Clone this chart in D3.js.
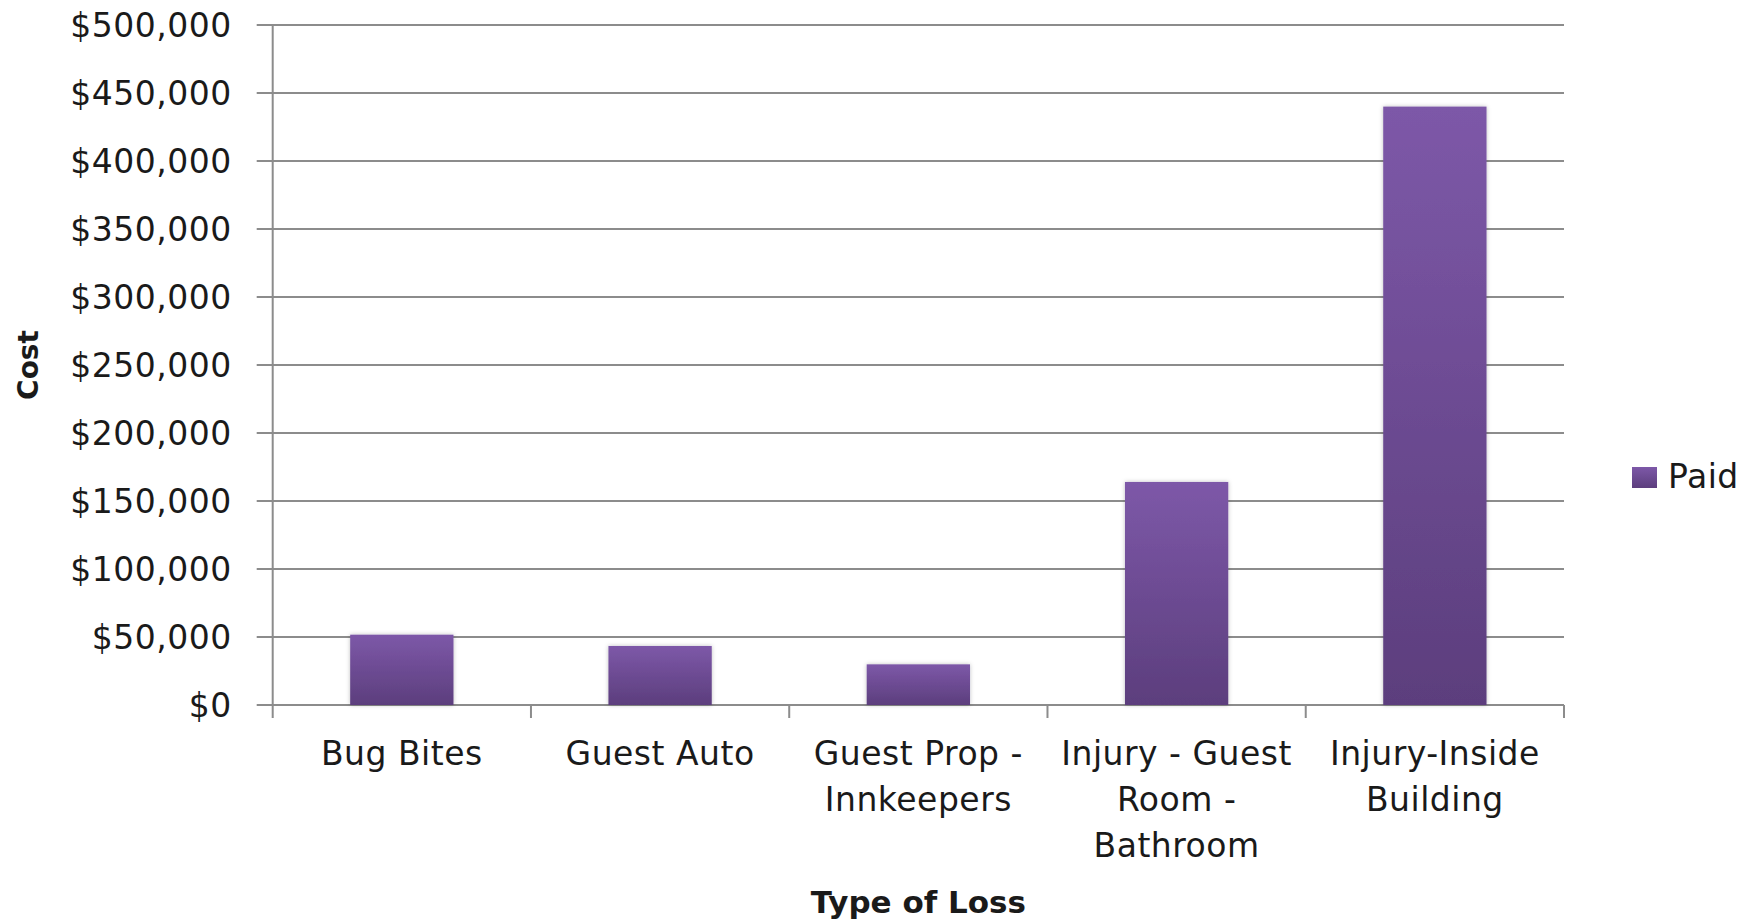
<!DOCTYPE html>
<html>
<head>
<meta charset="utf-8">
<script src="https://cdn.jsdelivr.net/npm/d3@7"></script>
<style>
  html, body { margin: 0; padding: 0; background: #fff; }
  svg { display: block; }
  text { font-family: "DejaVu Sans", sans-serif; fill: #1a1a1a; }
</style>
</head>
<body>
<svg id="chart" width="1760" height="923"></svg>
<script>
// ---- data ----
const categories = ["Bug Bites", "Guest Auto", "Guest Prop - Innkeepers", "Injury - Guest Room - Bathroom", "Injury-Inside Building"];
const categoryLines = [["Bug Bites"], ["Guest Auto"], ["Guest Prop -", "Innkeepers"], ["Injury - Guest", "Room -", "Bathroom"], ["Injury-Inside", "Building"]];
const paid = [51700, 43400, 29900, 164000, 440000];
const yTicks = [0, 50000, 100000, 150000, 200000, 250000, 300000, 350000, 400000, 450000, 500000];
const seriesName = "Paid";
const xTitle = "Type of Loss";
const yTitle = "Cost";

// ---- layout ----
const svg = d3.select("#chart");
const mLeft = 272.7, mRight = 1564, mTop = 25, mBottom = 705;

const x = d3.scaleBand().domain(categories).range([mLeft, mRight]).paddingInner(0.6).paddingOuter(0.3);
const y = d3.scaleLinear().domain([0, 500000]).range([mBottom, mTop]);

const defs = svg.append("defs");
const grad = defs.append("linearGradient").attr("id", "barGrad").attr("x1", 0).attr("y1", 0).attr("x2", 0).attr("y2", 1);
grad.append("stop").attr("offset", "0%").attr("stop-color", "#7d58a8");
grad.append("stop").attr("offset", "100%").attr("stop-color", "#5c3e7d");
const shadow = defs.append("filter").attr("id", "shadow").attr("x", "-20%").attr("y", "-20%").attr("width", "140%").attr("height", "140%");
shadow.append("feDropShadow").attr("dx", 0).attr("dy", 0).attr("stdDeviation", 2).attr("flood-color", "#000").attr("flood-opacity", 0.25);

// gridlines
svg.append("g").selectAll("line").data(yTicks).join("line")
  .attr("x1", mLeft - 16).attr("x2", mRight)
  .attr("y1", d => y(d)).attr("y2", d => y(d))
  .attr("stroke", "#8c8c8c").attr("stroke-width", 2);

// y axis
const yAxis = svg.append("g").attr("transform", `translate(${mLeft},0)`)
  .call(d3.axisLeft(y).tickValues(yTicks).tickFormat(d3.format("$,")).tickSize(0).tickPadding(41));
yAxis.select(".domain").remove();
yAxis.selectAll("text").style("font-size", "33px").style("letter-spacing", "0.5px").attr("fill", "#1a1a1a").attr("dy", "0.36em");
svg.append("line").attr("x1", mLeft).attr("x2", mLeft).attr("y1", mTop).attr("y2", mBottom + 13)
  .attr("stroke", "#8c8c8c").attr("stroke-width", 2);

// x axis ticks at category boundaries
const step = x.step();
const gap = (step - x.bandwidth()) / 2;
const bounds = categories.map(c => x(c) - gap).concat([x(categories[categories.length - 1]) + x.bandwidth() + gap]);
svg.append("g").selectAll("line").data(bounds.slice(1)).join("line")
  .attr("x1", d => d).attr("x2", d => d).attr("y1", mBottom).attr("y2", mBottom + 13)
  .attr("stroke", "#8c8c8c").attr("stroke-width", 2);

// bars
svg.append("g").selectAll("rect").data(categories).join("rect")
  .attr("x", c => x(c)).attr("width", x.bandwidth())
  .attr("y", (c, i) => y(paid[i])).attr("height", (c, i) => y(0) - y(paid[i]))
  .attr("fill", "url(#barGrad)").attr("filter", "url(#shadow)");

// x category labels
const xl = svg.append("g").selectAll("text").data(categories).join("text")
  .attr("text-anchor", "middle").style("font-size", "33px").style("letter-spacing", "0.5px")
  .attr("transform", c => `translate(${x(c) + x.bandwidth() / 2},765)`);
xl.each(function (c, i) {
  d3.select(this).selectAll("tspan").data(categoryLines[i]).join("tspan")
    .attr("x", 0).attr("y", (d, j) => j * 46).text(d => d);
});

// axis titles
svg.append("text").attr("x", (mLeft + mRight) / 2).attr("y", 913).attr("text-anchor", "middle")
  .style("font-size", "31px").style("font-weight", "bold").text(xTitle);
svg.append("text").attr("transform", `translate(38,${(mTop + mBottom) / 2}) rotate(-90)`).attr("text-anchor", "middle")
  .style("font-size", "28px").style("font-weight", "bold").text(yTitle);

// legend
const lg = svg.append("g").attr("transform", "translate(1632,467)");
lg.append("rect").attr("width", 25).attr("height", 21).attr("fill", "url(#barGrad)");
lg.append("text").attr("x", 36).attr("y", 21).style("font-size", "33px").style("letter-spacing", "0.5px").text(seriesName);
</script>
</body>
</html>
